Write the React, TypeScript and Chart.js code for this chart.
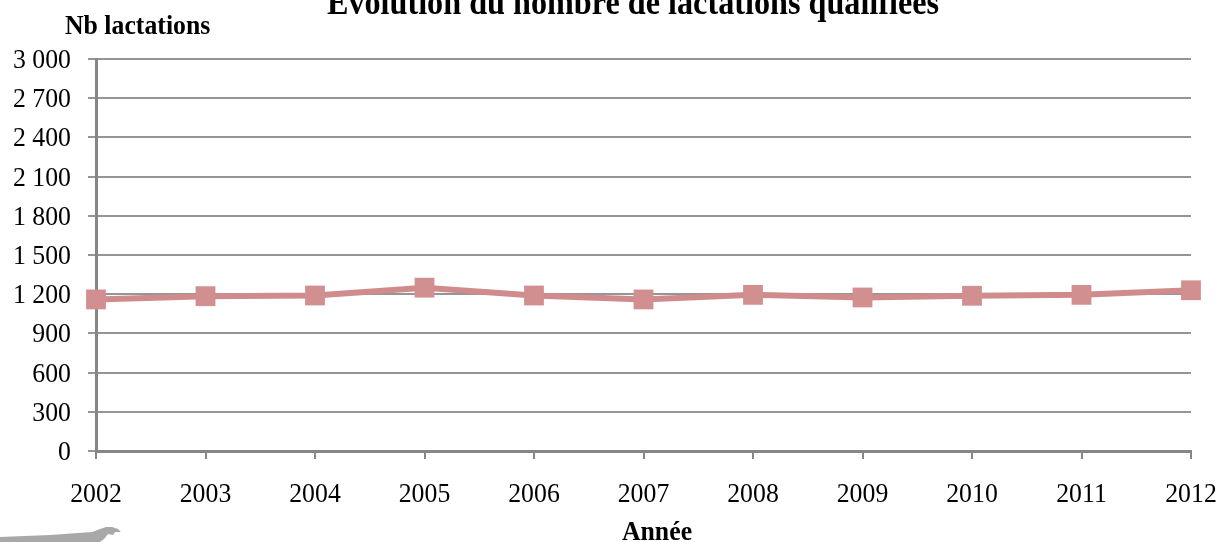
import React, { useEffect, useRef } from "react";
import { Chart, registerables } from "chart.js";

Chart.register(...registerables);

const years = ["2002", "2003", "2004", "2005", "2006", "2007", "2008", "2009", "2010", "2011", "2012"];
const lactations = [1160, 1185, 1190, 1250, 1190, 1160, 1195, 1175, 1188, 1195, 1230];
const yTickStep = 300;
const yMax = 3000;

const chartTitle = "Évolution du nombre de lactations qualifiées";
const yAxisTitle = "Nb lactations";
const xAxisTitle = "Année";

const FONT = "'Liberation Serif', 'Times New Roman', serif";
const SX = 0.92;

const fmt = (v: number) => {
  const s = Math.round(v).toString();
  return s.replace(/\B(?=(\d{3})+(?!\d))/g, " ");
};

function drawText(ctx: any, text: string, x: number, y: number, align: string) {
  ctx.save();
  ctx.translate(x, y);
  ctx.scale(SX, 1);
  ctx.textAlign = align;
  ctx.fillText(text, 0, 0);
  ctx.restore();
}

const textPlugin = {
  id: "textPlugin",
  afterDraw(chart: any) {
    const ctx = chart.ctx;
    ctx.save();
    ctx.fillStyle = "#000";
    ctx.textBaseline = "alphabetic";
    ctx.font = `bold 35px ${FONT}`;
    drawText(ctx, chartTitle, 633, 14, "center");
    ctx.font = `bold 28px ${FONT}`;
    drawText(ctx, yAxisTitle, 65, 34, "left");
    drawText(ctx, xAxisTitle, 657, 540, "center");

    ctx.font = `28px ${FONT}`;
    const xs = chart.scales.x;
    xs.ticks.forEach((t: any, i: number) => {
      const px = xs.getPixelForTick(i);
      drawText(ctx, String(xs.getLabelForValue(t.value)), px, 502, "center");
    });
    const ys = chart.scales.y;
    ys.ticks.forEach((t: any) => {
      const py = ys.getPixelForValue(t.value);
      drawText(ctx, fmt(t.value), 71, py + 9, "right");
    });

    // partial logo silhouette at bottom-left
    ctx.fillStyle = "#a8a8a8";
    ctx.beginPath();
    ctx.moveTo(0, 542);
    ctx.lineTo(0, 537);
    ctx.lineTo(50, 535);
    ctx.lineTo(92, 532);
    ctx.lineTo(100, 529);
    ctx.lineTo(106, 527);
    ctx.lineTo(112, 527);
    ctx.lineTo(118, 529);
    ctx.lineTo(121, 532);
    ctx.lineTo(115, 532);
    ctx.lineTo(113, 535);
    ctx.lineTo(108, 534);
    ctx.lineTo(104, 539);
    ctx.lineTo(100, 542);
    ctx.closePath();
    ctx.fill();
    ctx.restore();
  },
};

export default function App() {
  const ref = useRef<HTMLCanvasElement | null>(null);
  useEffect(() => {
    if (!ref.current) return;
    Chart.defaults.font.family = FONT;
    const chart = new Chart(ref.current, {
      type: "line",
      data: {
        labels: years,
        datasets: [
          {
            data: lactations,
            borderColor: "rgb(208,140,140)",
            backgroundColor: "rgb(210,143,143)",
            borderWidth: 6,
            pointStyle: "rect",
            pointRadius: 14,
            pointBorderWidth: 0,
            pointBackgroundColor: "rgb(210,143,143)",
            tension: 0,
          },
        ],
      },
      options: {
        animation: false,
        responsive: false,
        maintainAspectRatio: false,
        layout: { padding: { top: 59, right: 31, left: 0, bottom: 0 } },
        plugins: {
          legend: { display: false },
          title: { display: false },
          tooltip: { enabled: false },
        },
        scales: {
          x: {
            type: "category",
            offset: false,
            afterFit: (s: any) => {
              s.height = 91;
            },
            grid: {
              display: true,
              drawOnChartArea: false,
              drawTicks: true,
              tickLength: 8,
              color: "#868686",
              lineWidth: 2,
            },
            border: { display: true, color: "#868686", width: 3 },
            ticks: { display: false, autoSkip: false, maxRotation: 0 },
          },
          y: {
            min: 0,
            max: yMax,
            afterFit: (s: any) => {
              s.width = 96;
            },
            grid: {
              color: "#959595",
              lineWidth: 2,
              drawTicks: true,
              tickLength: 8,
            },
            border: { display: true, color: "#868686", width: 3 },
            ticks: { display: false, stepSize: yTickStep },
          },
        },
      },
      plugins: [textPlugin],
    });
    return () => chart.destroy();
  }, []);
  return (
    <div style={{ position: "fixed", left: 0, top: 0, width: 1222, height: 542, background: "#fff" }}>
      <canvas ref={ref} width={1222} height={542} style={{ width: 1222, height: 542, display: "block" }} />
    </div>
  );
}
